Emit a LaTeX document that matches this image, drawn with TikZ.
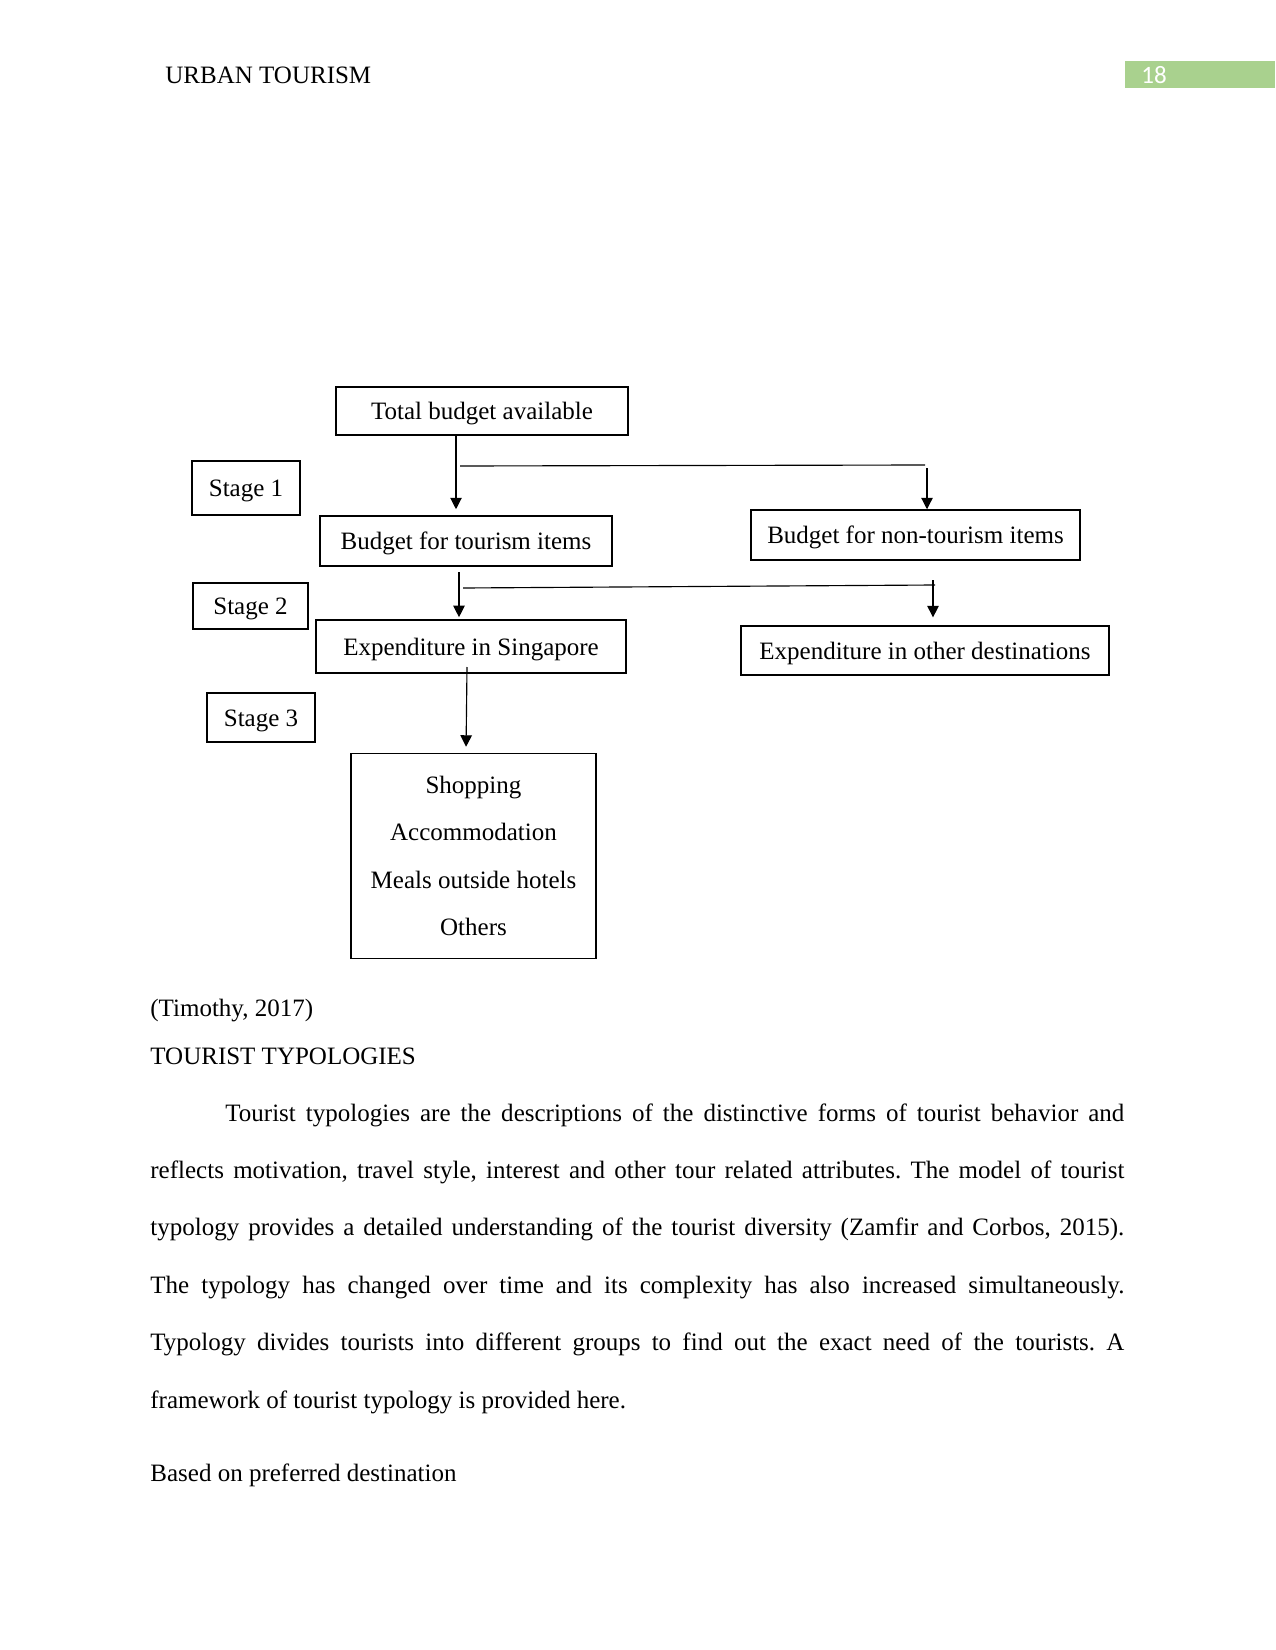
\documentclass[tikz,border=0pt]{standalone}
\usepackage{fontspec}
\setmainfont{Liberation Serif}
\newfontfamily\calib{Carlito}
\usetikzlibrary{arrows.meta}
\definecolor{hdrgreen}{HTML}{A9D18E}
\frenchspacing
\begin{document}
\begin{tikzpicture}[x=0.48pt,y=-0.48pt,
  txt/.style={font=\fontsize{12}{14}\selectfont, inner sep=0pt},
  one/.style={text height=10.5pt, text depth=2pt},
  box/.style={txt, draw, line width=0.7pt},
  thickbox/.style={txt, draw, line width=1.1pt},
  conn/.style={line width=0.55pt},
  arr/.style={conn, -{Triangle[width=5.5pt,length=5.5pt]}}]
\useasboundingbox (0,0) rectangle (1275,1650);
% header
\node[txt, anchor=west] (hdr) at (165,75) {URBAN TOURISM};
\node[fill=hdrgreen, minimum width={150*0.48pt}, minimum height={27*0.48pt}, inner sep=0pt, anchor=north west] (pg) at (1125,61) {};
\node[anchor=west, inner sep=0pt, text=white, font=\calib\fontsize{12}{14}\selectfont] (pgn) at (1141,75) {18};
% boxes
\node[thickbox, one, minimum width={292*0.48pt}, minimum height={48*0.48pt}] (total) at (482,411) {Total budget available};
\node[thickbox, one, minimum width={108*0.48pt}, minimum height={54*0.48pt}] (s1) at (246,488) {Stage 1};
\node[box, one, minimum width={292*0.48pt}, minimum height={50*0.48pt}] (tour) at (466,541) {Budget for tourism items};
\node[box, one, minimum width={329*0.48pt}, minimum height={50*0.48pt}] (nontour) at (915.5,535) {Budget for non-tourism items};
\node[thickbox, one, minimum width={115*0.48pt}, minimum height={46*0.48pt}] (s2) at (250.5,606) {Stage 2};
\node[box, one, minimum width={310*0.48pt}, minimum height={53*0.48pt}] (sing) at (471,646.5) {Expenditure in Singapore};
\node[box, one, minimum width={368*0.48pt}, minimum height={49*0.48pt}] (other) at (925,650.5) {Expenditure in other destinations};
\node[thickbox, one, minimum width={108*0.48pt}, minimum height={49*0.48pt}] (s3) at (261,717.5) {Stage 3};
\node[box, minimum width={245*0.48pt}, minimum height={205*0.48pt}, align=center,
  execute at begin node={\setlength{\baselineskip}{22.8pt}}] (items) at (473.5,856)
  {Shopping\\Accommodation\\Meals outside hotels\\Others};
% connectors
\coordinate (b1) at (460,466);
\coordinate (b1e) at (925,465);
\coordinate (b1d) at (927,468);
\coordinate (t2) at (459,572);
\coordinate (b2) at (463,588);
\coordinate (b2e) at (935,585);
\coordinate (b2d) at (933,580);
\coordinate (t3) at (467,667);
\draw[arr, shorten >=2.9pt] (total.south -| 456,0) -- (tour.north -| 456,0);
\draw[conn] (b1) -- (b1e);
\draw[arr] (b1d) -- (nontour.north -| 927,0);
\draw[arr, shorten >=1pt] (t2) -- (sing.north -| 459,0);
\draw[conn] (b2) -- (b2e);
\draw[arr, shorten >=3.8pt] (b2d) -- (other.north -| 933,0);
\draw[arr, shorten >=2.9pt] (t3) -- (items.north -| 466,0);
% body text
\node[txt, anchor=west] (cite) at (150,1011) {(Timothy, 2017)};
\node[txt, anchor=west] (head) at (150,1056) {TOURIST TYPOLOGIES};
\node[txt, anchor=base west] (l1) at (225,1121) {\makebox[431.5pt][s]{Tourist typologies are the descriptions of the distinctive forms of tourist behavior and}};
\node[txt, anchor=base west] (l2) at (150,1178.4) {\makebox[467.5pt][s]{reflects motivation, travel style, interest and other tour related attributes. The model of tourist}};
\node[txt, anchor=base west] (l3) at (150,1235.8) {\makebox[467.5pt][s]{typology provides a detailed understanding of the tourist diversity (Zamfir and Corbos, 2015).}};
\node[txt, anchor=base west] (l4) at (150,1293.2) {\makebox[467.5pt][s]{The typology has changed over time and its complexity has also increased simultaneously.}};
\node[txt, anchor=base west] (l5) at (150,1350.6) {\makebox[467.5pt][s]{Typology divides tourists into different groups to find out the exact need of the tourists. A}};
\node[txt, anchor=base west] (l6) at (150,1408) {framework of tourist typology is provided here.};
\node[txt, anchor=west] (based) at (150,1475) {Based on preferred destination};
\end{tikzpicture}
\end{document}
